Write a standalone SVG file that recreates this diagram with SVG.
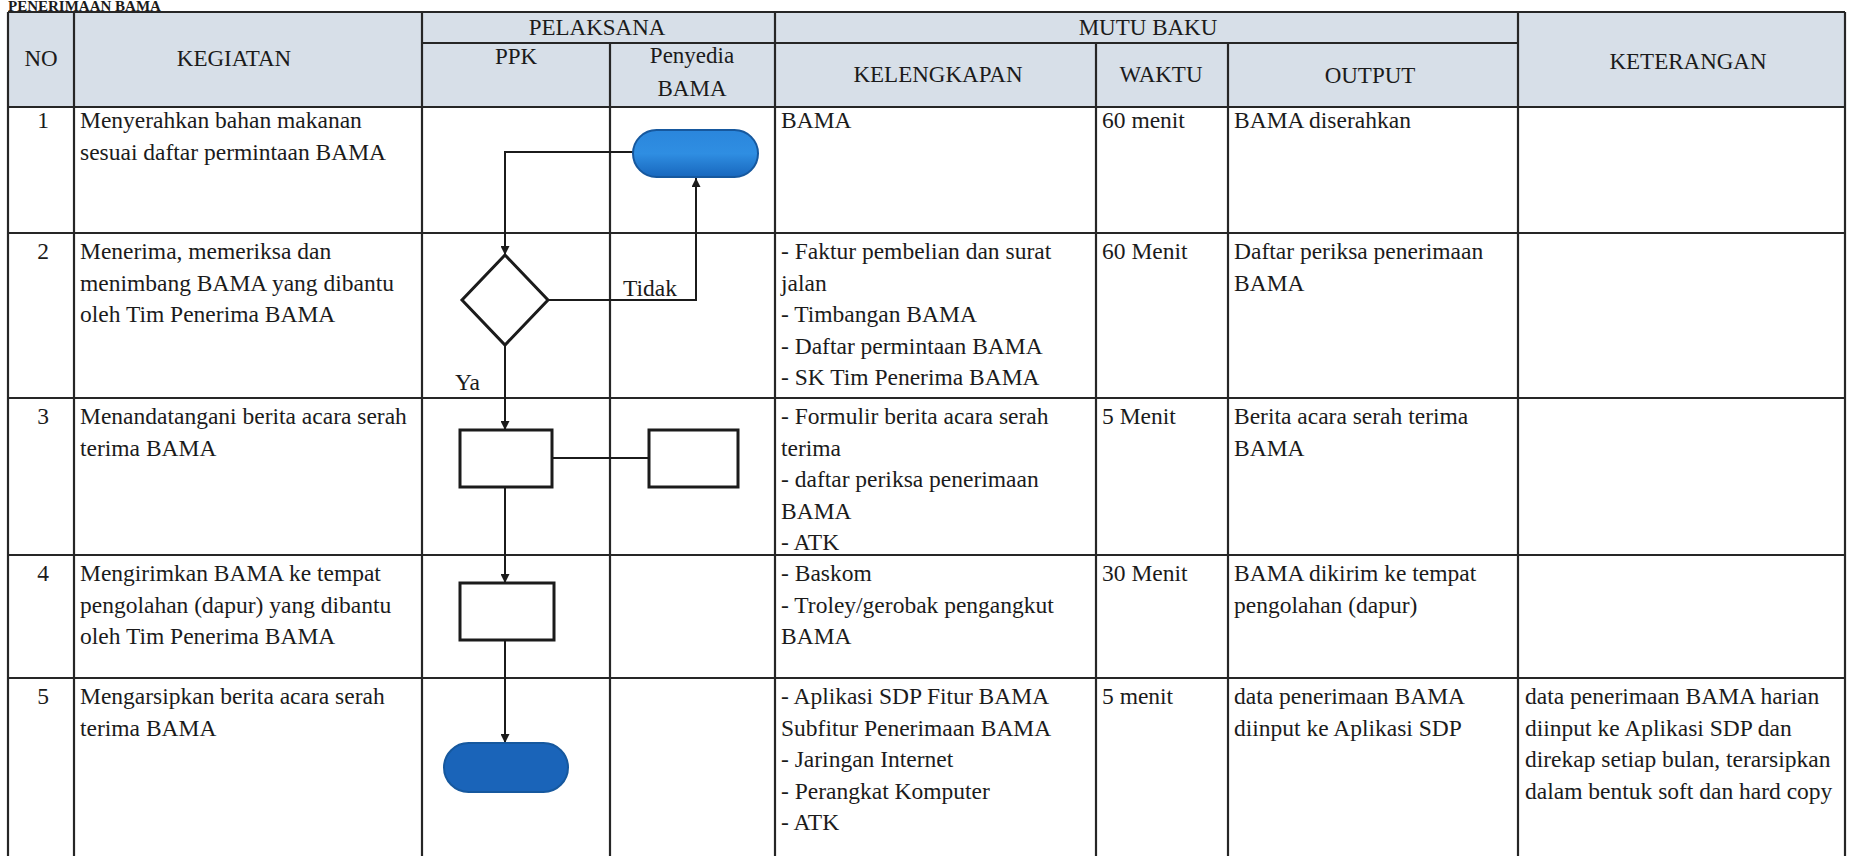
<svg xmlns="http://www.w3.org/2000/svg" width="1851" height="856" viewBox="0 0 1851 856">
<style>
.t{font-family:"Liberation Serif","Times New Roman",serif;font-size:23.5px;fill:#1b1b1b}
.h{font-family:"Liberation Serif","Times New Roman",serif;font-size:23px;fill:#1b1b1b}
.c{text-anchor:middle}
.ln{stroke:#262626;stroke-width:2.2;fill:none}
.box{fill:#ffffff;stroke:#1b1b1b;stroke-width:3}
.term{stroke:#16589e;stroke-width:2}
.con{stroke:#1b1b1b;stroke-width:2;fill:none}
</style>
<defs>
<marker id="arr" viewBox="0 0 10 10" refX="10" refY="5" markerWidth="9" markerHeight="9" markerUnits="userSpaceOnUse" orient="auto">
<path d="M0,0 L10,5 L0,10 z" fill="#1b1b1b"/>
</marker>
<linearGradient id="blue" x1="0" y1="0" x2="0" y2="1">
<stop offset="0" stop-color="#2a86dc"/>
<stop offset="0.5" stop-color="#2f8ee2"/>
<stop offset="1" stop-color="#1867bd"/>
</linearGradient>
</defs>
<rect x="0" y="0" width="1851" height="856" fill="#ffffff"/>
<text x="8" y="10.5" style="font-family:'Liberation Serif',serif;font-size:15px;font-weight:bold;fill:#1b1b1b">PENERIMAAN BAMA</text>

<g id="table">
<rect x="8" y="12" width="1837" height="95" fill="#d7dfe8"/>
<path class="ln" d="M8,12 H1845 M422,43 H1518 M8,107 H1845 M8,233 H1845 M8,398 H1845 M8,555 H1845 M8,678 H1845"/>
<path class="ln" d="M8,12 V856 M74,12 V856 M422,12 V856 M610,43 V856 M775,12 V856 M1096,43 V856 M1228,43 V856 M1518,12 V856 M1845,12 V856"/>
<g id="header">
<text class="h c" x="41" y="66">NO</text>
<text class="h c" x="234" y="66">KEGIATAN</text>
<text class="h c" x="597" y="35">PELAKSANA</text>
<text class="h c" x="516" y="64">PPK</text>
<text class="h c" x="692" y="63">Penyedia</text>
<text class="h c" x="692" y="96">BAMA</text>
<text class="h c" x="1148" y="35">MUTU BAKU</text>
<text class="h c" x="938" y="82">KELENGKAPAN</text>
<text class="h c" x="1161" y="82">WAKTU</text>
<text class="h c" x="1370" y="83">OUTPUT</text>
<text class="h c" x="1688" y="69">KETERANGAN</text>
</g>
<g id="row1">
<text class="t c" x="43" y="128">1</text>
<text class="t" x="80" y="128">Menyerahkan bahan makanan</text>
<text class="t" x="80" y="159.5">sesuai daftar permintaan BAMA</text>
<text class="t" x="781" y="128">BAMA</text>
<text class="t" x="1102" y="128">60 menit</text>
<text class="t" x="1234" y="128">BAMA diserahkan</text>
</g>
<g id="row2">
<text class="t c" x="43" y="259">2</text>
<text class="t" x="80" y="259">Menerima, memeriksa dan</text>
<text class="t" x="80" y="290.5">menimbang BAMA yang dibantu</text>
<text class="t" x="80" y="322">oleh Tim Penerima BAMA</text>
<text class="t" x="781" y="259">- Faktur pembelian dan surat</text>
<text class="t" x="781" y="290.5">jalan</text>
<text class="t" x="781" y="322">- Timbangan BAMA</text>
<text class="t" x="781" y="353.5">- Daftar permintaan BAMA</text>
<text class="t" x="781" y="385">- SK Tim Penerima BAMA</text>
<text class="t" x="1102" y="259">60 Menit</text>
<text class="t" x="1234" y="259">Daftar periksa penerimaan</text>
<text class="t" x="1234" y="290.5">BAMA</text>
</g>
<g id="row3">
<text class="t c" x="43" y="424">3</text>
<text class="t" x="80" y="424">Menandatangani berita acara serah</text>
<text class="t" x="80" y="455.5">terima BAMA</text>
<text class="t" x="781" y="424">- Formulir berita acara serah</text>
<text class="t" x="781" y="455.5">terima</text>
<text class="t" x="781" y="487">- daftar periksa penerimaan</text>
<text class="t" x="781" y="518.5">BAMA</text>
<text class="t" x="781" y="550">- ATK</text>
<text class="t" x="1102" y="424">5 Menit</text>
<text class="t" x="1234" y="424">Berita acara serah terima</text>
<text class="t" x="1234" y="455.5">BAMA</text>
</g>
<g id="row4">
<text class="t c" x="43" y="581">4</text>
<text class="t" x="80" y="581">Mengirimkan BAMA ke tempat</text>
<text class="t" x="80" y="612.5">pengolahan (dapur) yang dibantu</text>
<text class="t" x="80" y="644">oleh Tim Penerima BAMA</text>
<text class="t" x="781" y="581">- Baskom</text>
<text class="t" x="781" y="612.5">- Troley/gerobak pengangkut</text>
<text class="t" x="781" y="644">BAMA</text>
<text class="t" x="1102" y="581">30 Menit</text>
<text class="t" x="1234" y="581">BAMA dikirim ke tempat</text>
<text class="t" x="1234" y="612.5">pengolahan (dapur)</text>
</g>
<g id="row5">
<text class="t c" x="43" y="704">5</text>
<text class="t" x="80" y="704">Mengarsipkan berita acara serah</text>
<text class="t" x="80" y="735.5">terima BAMA</text>
<text class="t" x="781" y="704">- Aplikasi SDP Fitur BAMA</text>
<text class="t" x="781" y="735.5">Subfitur Penerimaan BAMA</text>
<text class="t" x="781" y="767">- Jaringan Internet</text>
<text class="t" x="781" y="798.5">- Perangkat Komputer</text>
<text class="t" x="781" y="830">- ATK</text>
<text class="t" x="1102" y="704">5 menit</text>
<text class="t" x="1234" y="704">data penerimaan BAMA</text>
<text class="t" x="1234" y="735.5">diinput ke Aplikasi SDP</text>
<text class="t" x="1525" y="704">data penerimaan BAMA harian</text>
<text class="t" x="1525" y="735.5">diinput ke Aplikasi SDP dan</text>
<text class="t" x="1525" y="767">direkap setiap bulan, terarsipkan</text>
<text class="t" x="1525" y="798.5">dalam bentuk soft dan hard copy</text>
</g>
</g>

<g id="connectors">
<path class="con" d="M633,152 H505 V255" marker-end="url(#arr)"/>
<path class="con" d="M548,300 H696 V178" marker-end="url(#arr)"/>
<path class="con" d="M505,345 V430" marker-end="url(#arr)"/>
<path class="con" d="M552,458 H649"/>
<path class="con" d="M505,487 V583" marker-end="url(#arr)"/>
<path class="con" d="M505,640 V743" marker-end="url(#arr)"/>
<text class="t" x="623" y="296">Tidak</text>
<text class="t" x="455" y="390">Ya</text>
</g>

<g id="start">
<rect class="term" x="633" y="130" width="125" height="47" rx="23.5" style="fill:url(#blue)"/>
</g>
<g id="decision">
<polygon class="box" points="505,255 548,300 505,345 462,300"/>
</g>
<g id="ppk-sign">
<rect class="box" x="460" y="430" width="92" height="57"/>
</g>
<g id="penyedia-sign">
<rect class="box" x="649" y="430" width="89" height="57"/>
</g>
<g id="ppk-send">
<rect class="box" x="460" y="583" width="94" height="57"/>
</g>
<g id="end">
<rect class="term" x="444" y="743" width="124" height="49" rx="24.5" style="fill:#1a64b9"/>
</g>
</svg>
